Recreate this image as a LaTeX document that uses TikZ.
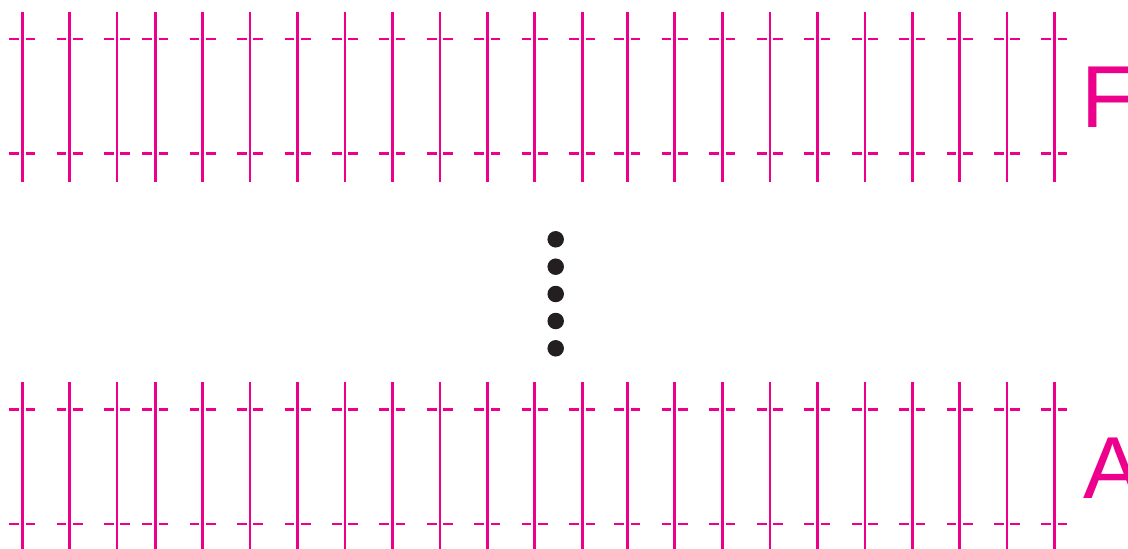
\documentclass[tikz,border=0pt]{standalone}
\usepackage{fontspec}
\setmainfont{Liberation Sans}
\definecolor{mag}{RGB}{236,0,140}
\definecolor{dotc}{RGB}{35,31,32}
\tikzset{
  post/.style={draw=mag, line width=2.6pt},
  tick/.style={draw=mag, line width=2.8pt},
  dotmark/.style={circle, fill=dotc, inner sep=0pt, minimum size=16.5pt},
  bandlabel/.style={text=mag, font=\fontsize{88}{88}\selectfont, inner sep=0pt, anchor=base west}
}
\begin{document}
\begin{tikzpicture}[x=1pt,y=-1pt]
\useasboundingbox (0,0) rectangle (1128,549);
\foreach \xx in {22.3,69.7,117,155.3,202.7,250,297.5,345,392.3,440,487.3,534.7,582.3,627.3,674.7,722.3,770,817.3,865,912.3,959.7,1007,1054.3}{
  \foreach \ytop/\ya/\yb/\ybot in {11.7/39/153.7/181.7, 382.3/409.3/524/551.7}{
    \draw[post] (\xx,\ytop) -- (\xx,\ybot);
    \draw[tick] (\xx-13,\ya) -- (\xx-3.3,\ya) (\xx+3.3,\ya) -- (\xx+13,\ya);
    \draw[tick] (\xx-13,\yb) -- (\xx-3.3,\yb) (\xx+3.3,\yb) -- (\xx+13,\yb);
  }
}
\foreach \yy [count=\i] in {239.3,266.7,294,321,348.3}{
  \node[dotmark] (d\i) at (555.7,\yy) {};
}
\node[bandlabel] (F) at (1081,127.7) {F};
\node[bandlabel] (A) at (1083,498.3) {A};
\end{tikzpicture}
\end{document}
